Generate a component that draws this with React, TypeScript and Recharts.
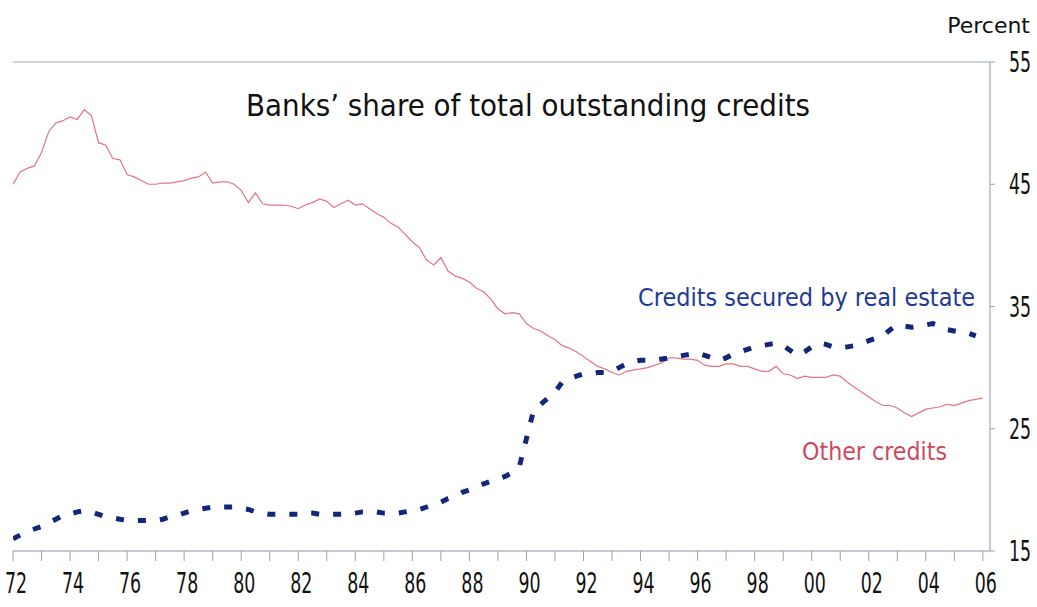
import React from 'react';
import { LineChart, Line, XAxis, YAxis, ReferenceLine } from 'recharts';

// years on the x axis (quarterly data, one tick per year)
const years = [
  1972, 1973, 1974, 1975, 1976, 1977, 1978, 1979, 1980, 1981, 1982, 1983,
  1984, 1985, 1986, 1987, 1988, 1989, 1990, 1991, 1992, 1993, 1994, 1995,
  1996, 1997, 1998, 1999, 2000, 2001, 2002, 2003, 2004, 2005, 2006,
];

const percentTicks = [15, 25, 35, 45, 55];

// Other credits, quarterly 1972Q1 .. 2006Q1
const otherCredits = [
  45.0, 46.0, 46.3, 46.5, // 72
  47.6, 49.3, 50.0, 50.2, // 73
  50.5, 50.3, 51.1, 50.6, // 74
  48.4, 48.2, 47.1, 47.0, // 75
  45.8, 45.6, 45.3, 45.0, // 76
  45.0, 45.1, 45.1, 45.2, // 77
  45.3, 45.5, 45.6, 46.0, // 78
  45.1, 45.2, 45.2, 45.0, // 79
  44.5, 43.5, 44.3, 43.4, // 80
  43.3, 43.3, 43.3, 43.2, // 81
  43.0, 43.3, 43.5, 43.8, // 82
  43.6, 43.1, 43.4, 43.7, // 83
  43.3, 43.4, 43.0, 42.6, // 84
  42.3, 41.8, 41.5, 40.9, // 85
  40.3, 39.8, 38.8, 38.4, // 86
  39.0, 37.9, 37.5, 37.3, // 87
  37.0, 36.5, 36.2, 35.6, // 88
  34.8, 34.4, 34.5, 34.4, // 89
  33.6, 33.2, 33.0, 32.6, // 90
  32.3, 31.8, 31.6, 31.3, // 91
  30.9, 30.5, 30.1, 29.9, // 92
  29.6, 29.4, 29.7, 29.8, // 93
  29.9, 30.0, 30.2, 30.4, // 94
  30.8, 30.8, 30.7, 30.7, // 95
  30.6, 30.2, 30.1, 30.1, // 96
  30.3, 30.3, 30.1, 30.1, // 97
  29.9, 29.7, 29.7, 30.1, // 98
  29.5, 29.4, 29.1, 29.3, // 99
  29.2, 29.2, 29.2, 29.4, // 00
  29.3, 28.8, 28.4, 28.0, // 01
  27.6, 27.2, 26.9, 26.9, // 02
  26.7, 26.3, 26.0, 26.3, // 03
  26.6, 26.7, 26.8, 27.0, // 04
  26.9, 27.1, 27.3, 27.4, // 05
  27.5, // 06
];

// Credits secured by real estate, quarterly 1972Q1 .. 2006Q1
const realEstateCredits: (number | null)[] = [
  16.0, 16.3, 16.6, 16.8, // 72
  17.0, 17.3, 17.6, 17.9, // 73
  18.0, 18.2, 18.3, 18.2, // 74
  18.0, 17.8, 17.7, 17.6, // 75
  17.5, 17.5, 17.5, 17.5, // 76
  17.5, 17.6, 17.8, 17.9, // 77
  18.1, 18.3, 18.4, 18.5, // 78
  18.6, 18.6, 18.6, 18.6, // 79
  18.5, 18.4, 18.2, 18.1, // 80
  18.0, 18.0, 18.0, 18.0, // 81
  18.0, 18.1, 18.1, 18.0, // 82
  18.0, 18.0, 18.0, 18.0, // 83
  18.1, 18.2, 18.2, 18.2, // 84
  18.1, 18.1, 18.1, 18.2, // 85
  18.3, 18.4, 18.6, 18.8, // 86
  19.0, 19.3, 19.5, 19.8, // 87
  20.0, 20.3, 20.5, 20.7, // 88
  20.9, 21.1, 21.4, 21.9, // 89
  24.2, 26.5, 27.0, 27.5, // 90
  28.0, 28.8, 29.1, 29.3, // 91
  29.5, 29.5, 29.6, 29.6, // 92
  29.7, 30.0, 30.3, 30.5, // 93
  30.6, 30.6, 30.6, 30.7, // 94
  30.8, 30.9, 31.0, 31.1, // 95
  31.2, 31.0, 30.8, 30.6, // 96
  30.8, 31.1, 31.3, 31.5, // 97
  31.7, 31.8, 31.9, 32.0, // 98
  31.8, 31.4, 31.0, 31.3, // 99
  31.7, 32.0, 31.9, 31.7, // 00
  31.6, 31.7, 31.8, 32.0, // 01
  32.2, 32.4, 32.6, 33.1, // 02
  33.5, 33.4, 33.3, 33.4, // 03
  33.5, 33.6, 33.4, 33.1, // 04
  33.0, 32.9, 32.8, 32.6, // 05
  null, // 06
];

const data = otherCredits.map((v, i) => ({
  t: years[0] + i / 4,
  other: v,
  realEstate: realEstateCredits[i],
}));

const FONT = '"DejaVu Sans", Verdana, sans-serif';
const AXIS = '#8497b4';

// digits in the reference are tall and narrow, so squeeze them horizontally
const XTick = (props: any) => {
  const { x, y, payload } = props;
  if (payload.value % 2 !== 0) return null;
  const label = String(payload.value).slice(2);
  return (
    <g transform={`translate(${x + 3},${y + 30})`}>
      <text transform="scale(0.6,1)" textAnchor="middle" fontFamily={FONT} fontSize={29} fill="#111">
        {label}
      </text>
    </g>
  );
};

const YTick = (props: any) => {
  const { x, y, payload } = props;
  return (
    <g transform={`translate(${x + 12},${y + 10})`}>
      <text transform="scale(0.6,1)" textAnchor="start" fontFamily={FONT} fontSize={29} fill="#111">
        {payload.value}
      </text>
    </g>
  );
};

export default function App() {
  return (
    <div style={{ position: 'absolute', left: 0, top: 0, width: 1037, height: 607, background: '#fff' }}>
      <LineChart width={1037} height={607} data={data} margin={{ top: 62, right: 0, bottom: 0, left: 13 }}>
        <XAxis dataKey="t" type="number" domain={[1972, 2006.25]} ticks={years} interval={0}
          allowDataOverflow height={56} tickSize={10} stroke={AXIS} tickLine={{ stroke: '#9aa3ae' }}
          tick={<XTick />} />
        <YAxis yAxisId="r" orientation="right" domain={[15, 55]} ticks={percentTicks} width={47}
          tickSize={5} stroke={AXIS} tickLine={{ stroke: '#9aa3ae' }} tick={<YTick />} />
        <YAxis yAxisId="l" orientation="left" domain={[15, 55]} width={0} tick={false}
          tickLine={false} stroke="#a9b6c8" />
        <ReferenceLine yAxisId="r" y={55} stroke="#cfd3da" strokeWidth={2} />
        <Line yAxisId="r" dataKey="other" stroke="#e07684" strokeWidth={1.2} dot={false}
          isAnimationActive={false} />
        <Line yAxisId="r" dataKey="realEstate" stroke="#14267a" strokeWidth={5}
          strokeDasharray="8 14" dot={false} isAnimationActive={false} connectNulls={false} />
      </LineChart>
      <svg width={1037} height={607} style={{ position: 'absolute', left: 0, top: 0, pointerEvents: 'none' }}>
        <text x={246} y={116} fontFamily={FONT} fontSize={30} fill="#111"
          textLength={564} lengthAdjust="spacingAndGlyphs">
          Banks’ share of total outstanding credits
        </text>
        <text x={1030} y={33} textAnchor="end" fontFamily={FONT} fontSize={22} fill="#111">
          Percent
        </text>
        <text x={638} y={306} fontFamily={FONT} fontSize={24} fill="#1f3a94"
          textLength={337} lengthAdjust="spacingAndGlyphs">
          Credits secured by real estate
        </text>
        <text x={802} y={460} fontFamily={FONT} fontSize={24} fill="#cc4a60"
          textLength={145} lengthAdjust="spacingAndGlyphs">
          Other credits
        </text>
      </svg>
    </div>
  );
}
